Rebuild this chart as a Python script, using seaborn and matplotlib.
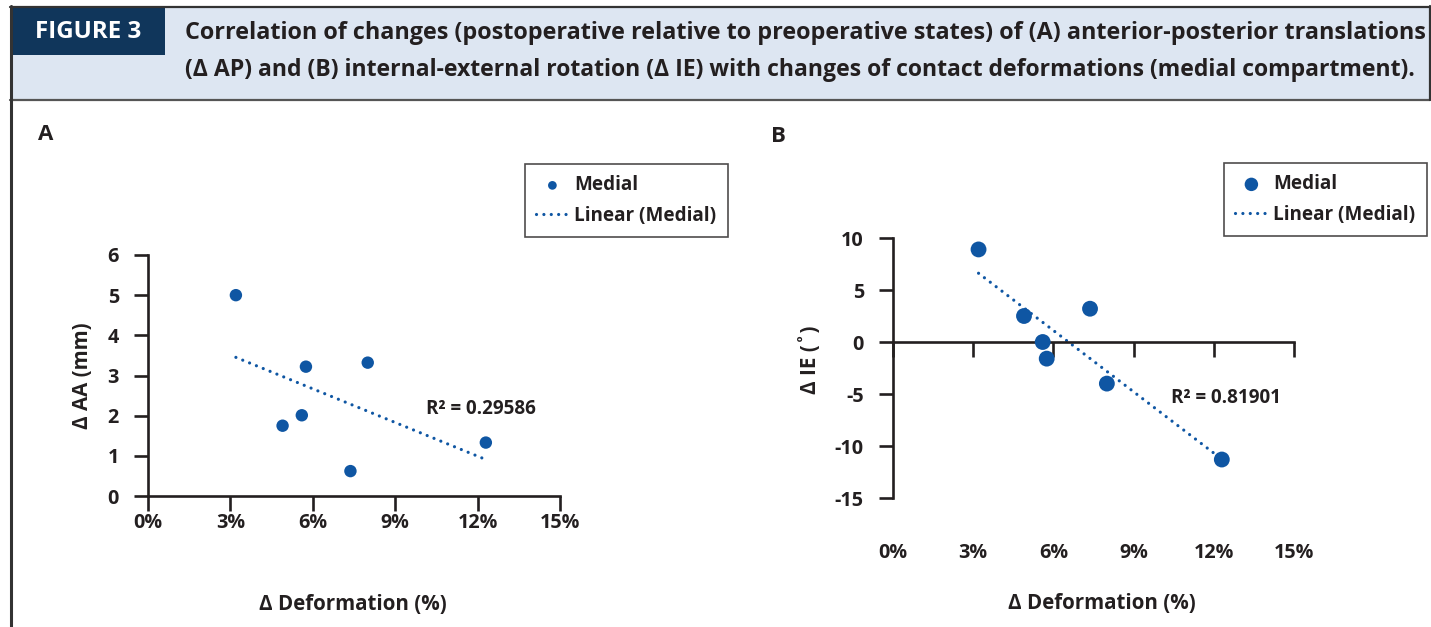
import numpy as np
import matplotlib
matplotlib.use("Agg")
import matplotlib.pyplot as plt
from matplotlib.patches import Rectangle
from matplotlib.lines import Line2D
from matplotlib.transforms import blended_transform_factory
import seaborn as sns

# =========================
# DATA
# =========================
deformation = [0.032, 0.049, 0.056, 0.0575, 0.0737, 0.080, 0.123]  # Δ deformation (fraction)
delta_aa = [5.00, 1.75, 2.01, 3.22, 0.62, 3.32, 1.33]               # Δ AA (mm), panel A
delta_ie = [8.9, 2.5, 0.0, -1.6, 3.2, -4.0, -11.3]                  # Δ IE (deg), panel B

x_ticks = [0.0, 0.03, 0.06, 0.09, 0.12, 0.15]
x_tick_labels = ["0%", "3%", "6%", "9%", "12%", "15%"]
aa_ticks = [0, 1, 2, 3, 4, 5, 6]
ie_ticks = [-15, -10, -5, 0, 5, 10]

r2_a = "R\u00b2 = 0.29586"
r2_b = "R\u00b2 = 0.81901"

title_line1 = ("Correlation of changes (postoperative relative to preoperative states) "
               "of (A) anterior-posterior translations")
title_line2 = ("(\u0394 AP) and (B) internal-external rotation (\u0394 IE) with changes "
               "of contact deformations (medial compartment).")

# =========================
# STYLE
# =========================
sns.set_style("white")
plt.rcParams["font.family"] = ["Open Sans", "DejaVu Sans"]
plt.rcParams["font.weight"] = "bold"

BLUE = "#0f56a3"
NAVY = "#10365b"
BAND = "#dde6f2"
INK = "#231f20"
FS = 14.2
LEG_FS = 13.6

W, H = 1431, 627
fig = plt.figure(figsize=(W / 100, H / 100), dpi=100)
fig.patch.set_facecolor("white")

# =========================
# HEADER
# =========================
fig.add_artist(Rectangle((12 / W, 1 - 99 / H), 1417 / W, 91 / H,
                         transform=fig.transFigure, facecolor=BAND, edgecolor="none"))
fig.add_artist(Rectangle((12 / W, 1 - 55 / H), 153 / W, 47 / H,
                         transform=fig.transFigure, facecolor=NAVY, edgecolor="none"))
fig.add_artist(Line2D([10 / W, 1430 / W], [1 - 7 / H, 1 - 7 / H],
                      transform=fig.transFigure, color="#333333", lw=1.6))
fig.add_artist(Line2D([10 / W, 1430 / W], [1 - 99.5 / H, 1 - 99.5 / H],
                      transform=fig.transFigure, color="#555555", lw=1.6))
fig.add_artist(Line2D([11 / W, 11 / W], [1 - 6 / H, 0],
                      transform=fig.transFigure, color="#333333", lw=2.2))
fig.add_artist(Line2D([1429.5 / W, 1429.5 / W], [1 - 6 / H, 1 - 100 / H],
                      transform=fig.transFigure, color="#333333", lw=1.6))

fig.text(88 / W, 1 - 32 / H, "FIGURE 3", color="white", ha="center", va="center",
         fontsize=17.4)
fig.text(185 / W, 1 - 33 / H, title_line1, color=INK, ha="left", va="center", fontsize=16.85)
fig.text(185 / W, 1 - 70 / H, title_line2, color=INK, ha="left", va="center", fontsize=16.55)

fig.text(46 / W, 1 - 135 / H, "A", color=INK, ha="center", va="center", fontsize=16)
fig.text(778 / W, 1 - 137 / H, "B", color=INK, ha="center", va="center", fontsize=16)

# =========================
# PANELS
# =========================
ax_a = fig.add_axes([148 / W, 1 - 496 / H, 412 / W, 241 / H])
ax_b = fig.add_axes([893 / W, 1 - 498 / H, 401 / W, 260 / H])

line_kws = dict(color=BLUE, lw=2.3, ls=(0, (0.01, 2.3)), dash_capstyle="round")

sns.scatterplot(x=deformation, y=delta_aa, ax=ax_a, color=BLUE, s=80,
                edgecolor="none", label="Medial", zorder=3)
sns.regplot(x=np.array(deformation), y=np.array(delta_aa), ax=ax_a, scatter=False,
            ci=None, truncate=True, label="Linear (Medial)", line_kws=line_kws)

sns.scatterplot(x=deformation, y=delta_ie, ax=ax_b, color=BLUE, s=130,
                edgecolor="none", label="Medial", zorder=3)
sns.regplot(x=np.array(deformation), y=np.array(delta_ie), ax=ax_b, scatter=False,
            ci=None, truncate=True, label="Linear (Medial)", line_kws=line_kws)


def style_panel(ax, ylim, yticks, xlab_y, ylabel, ylab_xy, xlabel_xy, r2, r2_xy,
                legend_xy, markerscale):
    ax.set_xlim(0, 0.15)
    ax.set_ylim(*ylim)
    ax.set_facecolor("none")
    ax.set_xticks(x_ticks)
    ax.set_yticks(yticks)
    ax.set_yticklabels([str(t) for t in yticks])
    ax.spines[["top", "right"]].set_visible(False)
    ax.spines["bottom"].set_position(("data", 0))
    for s in ["left", "bottom"]:
        ax.spines[s].set_color(INK)
        ax.spines[s].set_linewidth(1.9)
    ax.tick_params(axis="x", direction="out", length=11, width=1.9, color=INK,
                   labelbottom=False, bottom=True)
    ax.tick_params(axis="y", direction="out", length=10, width=1.9, color=INK,
                   labelsize=FS, labelcolor=INK, pad=11, left=True)
    ax.set_xlabel("")
    ax.set_ylabel("")

    # tick labels sit well below the axis line, as in the original
    trans = blended_transform_factory(ax.transData, ax.transAxes)
    for t, lab in zip(x_ticks, x_tick_labels):
        ax.text(t, xlab_y, lab, transform=trans, ha="center", va="center",
                fontsize=FS, color=INK)
    ax.text(*xlabel_xy, "\u0394 Deformation (%)", transform=ax.transAxes,
            ha="center", va="center", fontsize=FS + 0.6, color=INK)
    ax.text(*ylab_xy, ylabel, transform=ax.transAxes, rotation=90,
            ha="center", va="center", fontsize=FS + 0.6, color=INK)
    ax.text(*r2_xy, r2, transform=ax.transAxes, ha="left", va="center",
            fontsize=FS - 0.6, color=INK)

    leg = ax.legend(loc="upper left", bbox_to_anchor=legend_xy,
                    bbox_transform=fig.transFigure, frameon=True, fancybox=False,
                    fontsize=LEG_FS, markerscale=markerscale, handlelength=1.7,
                    handletextpad=0.3, borderpad=0.6, labelspacing=0.55,
                    borderaxespad=0)
    frame = leg.get_frame()
    frame.set_edgecolor(INK)
    frame.set_linewidth(1.2)
    for txt in leg.get_texts():
        txt.set_color(INK)


style_panel(ax_a, (0, 6), aa_ticks, -0.112, "\u0394 AA (mm)", (-0.158, 0.5),
            (0.498, -0.452), r2_a, (0.675, 0.361), (525 / W, 1 - 164 / H), 0.7)
style_panel(ax_b, (-15, 10), ie_ticks, -0.2115, "\u0394 IE (\u02da)", (-0.207, 0.531),
            (0.521, -0.404), r2_b, (0.693, 0.385), (1224 / W, 1 - 163 / H), 0.85)

fig.savefig("out.png", dpi=100, facecolor="white")
